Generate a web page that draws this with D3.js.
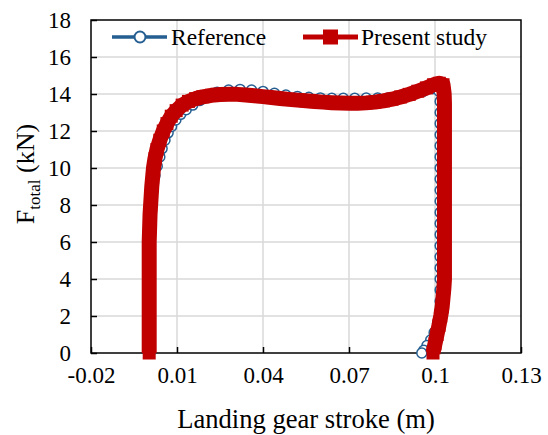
<!DOCTYPE html>
<html>
<head>
<meta charset="utf-8">
<script src="https://cdn.jsdelivr.net/npm/d3@7"></script>
<style>
  body { margin: 0; background: #fff; }
  text { font-family: "Liberation Serif", "Times New Roman", serif; fill: #000; }
</style>
</head>
<body>
<div class="chart"></div>
<script>
// Reference curve (blue, open circles)
const refStroke = [0.0005, 0.0005, 0.0005, 0.0005, 0.0005, 0.0005, 0.0005, 0.0005, 0.0005, 0.0005, 0.0006, 0.0007, 0.0008, 0.0010, 0.0013, 0.0017, 0.0023, 0.0031, 0.0040, 0.0048, 0.0058, 0.0069, 0.0081, 0.0096, 0.0113, 0.0132, 0.0155, 0.0180, 0.0208, 0.0240, 0.0280, 0.0320, 0.0360, 0.0400, 0.0440, 0.0480, 0.0520, 0.0560, 0.0600, 0.0640, 0.0680, 0.0720, 0.0760, 0.0800, 0.0840, 0.0880, 0.0920, 0.0960, 0.0995, 0.1014, 0.1018, 0.1018, 0.1018, 0.1018, 0.1018, 0.1018, 0.1018, 0.1018, 0.1018, 0.1018, 0.1018, 0.1018, 0.1018, 0.1018, 0.1018, 0.1018, 0.1018, 0.1018, 0.1018, 0.1017, 0.1009, 0.0997, 0.0985, 0.0972, 0.0961, 0.0954]
const refForce = [0, 0.6, 1.2, 1.8, 2.4, 3.0, 3.6, 4.2, 4.8, 5.4, 6.0, 6.6, 7.2, 7.8, 8.4, 9.0, 9.6, 10.1, 10.6, 11.05, 11.5, 11.9, 12.25, 12.6, 12.9, 13.15, 13.4, 13.65, 13.9, 14.1, 14.21, 14.25, 14.21, 14.14, 14.04, 13.94, 13.87, 13.82, 13.79, 13.77, 13.77, 13.77, 13.78, 13.78, 13.8, 13.85, 13.97, 14.15, 14.3, 14.15, 13.6, 13.0, 12.4, 11.8, 11.2, 10.6, 10.0, 9.4, 8.8, 8.2, 7.6, 7.0, 6.4, 5.8, 5.2, 4.6, 4.0, 3.4, 2.8, 2.2, 1.6, 1.1, 0.7, 0.4, 0.15, 0]

// Present study (red, filled squares)
const presStroke = [0.0003, 0.0003, 0.0003, 0.0003, 0.0003, 0.0003, 0.0003, 0.0003, 0.0003, 0.0003, 0.0003, 0.0003, 0.0003, 0.0004, 0.0005, 0.0006, 0.0008, 0.0010, 0.0012, 0.0015, 0.0018, 0.0023, 0.0030, 0.0040, 0.0052, 0.0065, 0.0080, 0.0097, 0.0118, 0.0140, 0.0165, 0.0190, 0.0220, 0.0250, 0.0280, 0.0310, 0.0340, 0.0370, 0.0400, 0.0430, 0.0460, 0.0490, 0.0520, 0.0550, 0.0580, 0.0610, 0.0640, 0.0670, 0.0700, 0.0730, 0.0760, 0.0790, 0.0820, 0.0850, 0.0880, 0.0910, 0.0940, 0.0970, 0.0995, 0.1015, 0.1028, 0.1032, 0.1033, 0.1033, 0.1033, 0.1033, 0.1033, 0.1033, 0.1033, 0.1033, 0.1033, 0.1033, 0.1033, 0.1033, 0.1033, 0.1033, 0.1033, 0.1033, 0.1033, 0.1033, 0.1033, 0.1033, 0.1031, 0.1028, 0.1025, 0.1020, 0.1014, 0.1007, 0.1000, 0.0993]
const presForce = [0, 0.5, 1.0, 1.5, 2.0, 2.5, 3.0, 3.5, 4.0, 4.5, 5.0, 5.5, 6.0, 6.5, 7.0, 7.5, 8.0, 8.5, 9.0, 9.5, 10.0, 10.5, 11.0, 11.5, 12.0, 12.4, 12.8, 13.1, 13.4, 13.6, 13.75, 13.85, 13.93, 13.97, 13.99, 13.98, 13.95, 13.91, 13.86, 13.81, 13.76, 13.71, 13.67, 13.63, 13.59, 13.56, 13.53, 13.51, 13.50, 13.50, 13.52, 13.56, 13.63, 13.72, 13.84, 13.98, 14.15, 14.33, 14.50, 14.58, 14.5, 14.0, 13.5, 13.0, 12.5, 12.0, 11.5, 11.0, 10.5, 10.0, 9.5, 9.0, 8.5, 8.0, 7.5, 7.0, 6.5, 6.0, 5.5, 5.0, 4.5, 4.0, 3.5, 3.0, 2.5, 2.0, 1.5, 1.0, 0.5, 0]

const xTicks = [-0.02, 0.01, 0.04, 0.07, 0.1, 0.13]
const yTicks = [0, 2, 4, 6, 8, 10, 12, 14, 16, 18]

const width = 548, height = 435
const plotLeft = 91, plotRight = 521, plotTop = 20, plotBottom = 353
const serif = '"Liberation Serif", "Times New Roman", serif'

let svg = d3.select('.chart')
.append('svg')
.attr('width', width)
.attr('height', height)
.attr('font-family', serif)

let x = d3.scaleLinear().domain([-0.02, 0.13]).range([plotLeft, plotRight])
let y = d3.scaleLinear().domain([0, 18]).range([plotBottom, plotTop])

// gridlines
svg.append('g').selectAll('line')
.data(xTicks.slice(1, -1))
.enter()
.append('line')
.attr('x1', d => x(d)).attr('x2', d => x(d))
.attr('y1', plotTop).attr('y2', plotBottom)
.attr('stroke', '#d9d9d9').attr('stroke-width', 1.5)

svg.append('g').selectAll('line')
.data(yTicks.slice(1, -1))
.enter()
.append('line')
.attr('x1', plotLeft).attr('x2', plotRight)
.attr('y1', d => y(d)).attr('y2', d => y(d))
.attr('stroke', '#d9d9d9').attr('stroke-width', 1.5)

// axes, ticks inside
let xAxis = svg.append('g')
.attr('transform', `translate(0,${plotBottom})`)
.call(d3.axisBottom(x).tickValues(xTicks).tickSizeInner(-6).tickSizeOuter(0).tickPadding(14).tickFormat(d => String(+d.toFixed(2))))

let yAxis = svg.append('g')
.attr('transform', `translate(${plotLeft},0)`)
.call(d3.axisLeft(y).tickValues(yTicks).tickSizeInner(-6).tickSizeOuter(0).tickPadding(20))

;[xAxis, yAxis].forEach(a => {
	a.attr('font-family', serif).attr('font-size', 23)
	a.selectAll('.domain').remove()
	a.selectAll('line').attr('stroke', '#000').attr('stroke-width', 1.5)
	a.selectAll('text').attr('font-family', serif).style('font-family', serif).style('font-size', '23px').attr('fill', '#000')
})

// plot border
svg.append('rect')
.attr('x', plotLeft).attr('y', plotTop)
.attr('width', plotRight - plotLeft).attr('height', plotBottom - plotTop)
.attr('fill', 'none').attr('stroke', '#000').attr('stroke-width', 1.5)

// series
const refData = refStroke.map((s, i) => [s, refForce[i]])
const presData = presStroke.map((s, i) => [s, presForce[i]])

let line = d3.line().x(d => x(d[0])).y(d => y(d[1]))

svg.append('path')
.datum(refData)
.attr('d', line)
.attr('fill', 'none').attr('stroke', '#255e91').attr('stroke-width', 3)

svg.append('g').selectAll('circle')
.data(refData)
.enter()
.append('circle')
.attr('cx', d => x(d[0])).attr('cy', d => y(d[1]))
.attr('r', 5)
.attr('fill', '#fff').attr('stroke', '#255e91').attr('stroke-width', 1.5)

// markers are so dense in the original that the series reads as a solid band
svg.append('path')
.datum(presData)
.attr('d', line)
.attr('fill', 'none').attr('stroke', '#c00000').attr('stroke-width', 15)
.attr('stroke-linejoin', 'round')

svg.append('g').selectAll('rect')
.data(presData)
.enter()
.append('rect')
.attr('x', d => x(d[0]) - 6.5).attr('y', d => y(d[1]) - 6.5)
.attr('width', 13).attr('height', 13)
.attr('fill', '#c00000')

// legend
let legend = svg.append('g')
legend.append('line')
.attr('x1', 112).attr('x2', 167).attr('y1', 37).attr('y2', 37)
.attr('stroke', '#255e91').attr('stroke-width', 3.5)
legend.append('circle')
.attr('cx', 140).attr('cy', 37).attr('r', 5.5)
.attr('fill', '#fff').attr('stroke', '#255e91').attr('stroke-width', 2)
legend.append('text')
.attr('x', 171).attr('y', 45)
.attr('font-family', serif)
.style('font-size', '23.5px')
.text('Reference')

legend.append('line')
.attr('x1', 303).attr('x2', 358).attr('y1', 37).attr('y2', 37)
.attr('stroke', '#c00000').attr('stroke-width', 5)
legend.append('rect')
.attr('x', 323).attr('y', 29.5).attr('width', 15).attr('height', 15)
.attr('fill', '#c00000')
legend.append('text')
.attr('x', 361).attr('y', 45)
.attr('font-family', serif)
.style('font-size', '23.5px')
.text('Present study')

// axis titles
svg.append('text')
.attr('x', 306).attr('y', 428)
.attr('text-anchor', 'middle')
.attr('font-family', serif)
.style('font-size', '26.6px')
.text('Landing gear stroke (m)')

let yTitle = svg.append('text')
.attr('transform', 'translate(34,174) rotate(-90)')
.attr('text-anchor', 'middle')
.attr('font-family', serif)
.style('font-size', '26px')
yTitle.append('tspan').text('F')
yTitle.append('tspan').attr('dy', 6).style('font-size', '17px').text('total')
yTitle.append('tspan').attr('dy', -6).text(' (kN)')
</script>
</body>
</html>
